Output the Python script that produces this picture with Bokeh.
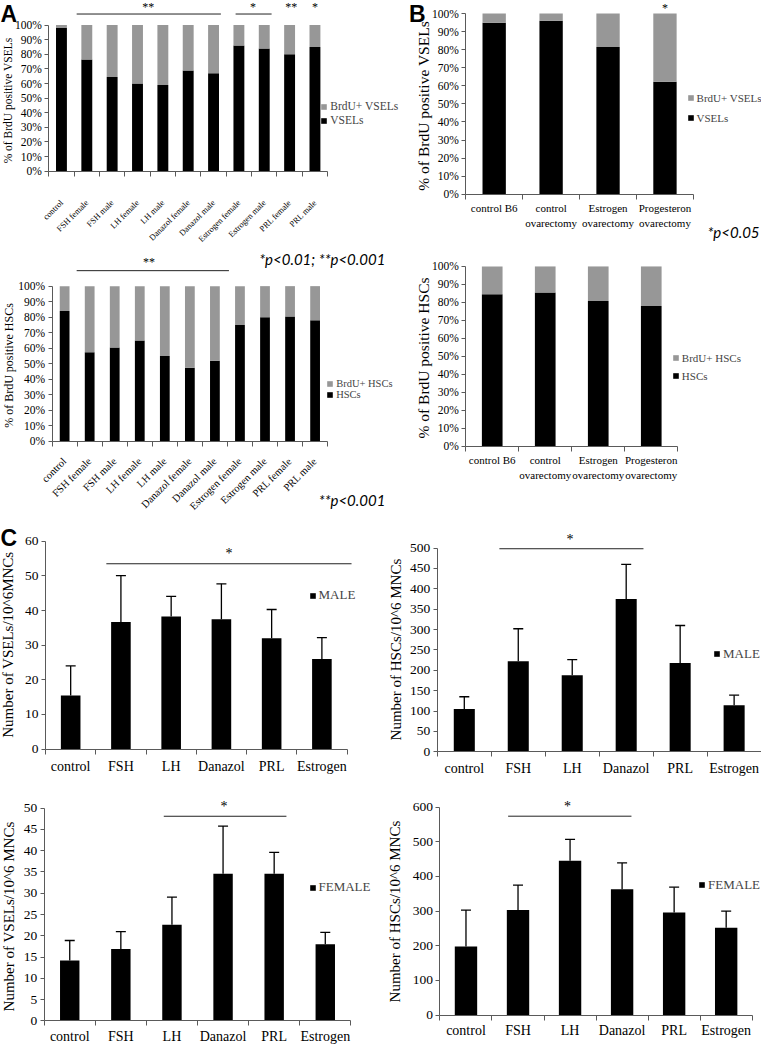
import math
from bokeh.plotting import figure
from bokeh.models import (Range1d, FixedTicker, Legend, LegendItem, Label,
                          Whisker, TeeHead, ColumnDataSource, NumeralTickFormatter,
                          BasicTickFormatter)
from bokeh.layouts import column, row
from bokeh.embed import file_html
from bokeh.resources import INLINE

# ---------------- data ----------------
a_categories = ["control", "FSH female", "FSH male", "LH female", "LH male",
                "Danazol female", "Danazol male", "Estrogen female", "Estrogen male",
                "PRL female", "PRL male"]
a_vsel_pct = [98, 76.5, 64.5, 60, 59, 69, 67, 86, 84, 80, 85]
a_hsc_pct = [84, 57.5, 60.5, 65, 55, 47.5, 52, 75, 80, 80.5, 78]

b_categories = ["control B6", "control\novarectomy", "Estrogen\novarectomy",
                "Progesteron\novarectomy"]
b_vsel_pct = [95, 96, 81.5, 62.3]
b_hsc_pct = [84.5, 85.5, 80.8, 78]

c_categories = ["control", "FSH", "LH", "Danazol", "PRL", "Estrogen"]
c_male_vsel = [15.5, 36.7, 38.3, 37.5, 32.0, 26.0]
c_male_vsel_err = [8.5, 13.4, 5.8, 10.2, 8.3, 6.2]
c_male_hsc = [105, 222, 188, 375, 218, 114]
c_male_hsc_err = [30, 80, 38, 85, 92, 25]
c_female_vsel = [14.2, 16.9, 22.6, 34.6, 34.6, 18.0]
c_female_vsel_err = [4.7, 4.1, 6.5, 11.2, 5.0, 2.8]
c_female_hsc = [198, 303, 445, 363, 296, 252]
c_female_hsc_err = [105, 72, 62, 76, 73, 48]

# ---------------- layout / style ----------------
SX = 761 / 777
SY = 1048 / 1064
ROW_LEFT_W = [399, 399, 382, 382]
TOTAL_W = 761
ROW_TOPS = [0, 246, 518, 778]
ROW_H = [246, 272, 260, 270]
SERIF = "Liberation Serif"
AXIS_COLOR = "#5a5a5a"
BLACK = "#000000"
GRAY = "#979797"


def base_figure(col, rowi, frame_left, axis_end, n, y_top, y_zero, ymax):
    lw = ROW_LEFT_W[rowi]
    fig_left = 0 if col == 0 else lw
    W = lw if col == 0 else TOTAL_W - lw
    H = ROW_H[rowi]
    top = ROW_TOPS[rowi]
    ax = frame_left * SX - fig_left        # px from figure left to y axis
    az = y_zero * SY - top                 # px from figure top to x axis
    ppc = (axis_end - frame_left) * SX / n
    ppu = (y_zero - y_top) * SY / ymax
    p = figure(width=W, height=H, title=None,
               x_range=Range1d(-ax / ppc, (W - ax) / ppc),
               y_range=Range1d(-(H - az) / ppu, az / ppu),
               min_border=0, min_border_left=0, min_border_right=0,
               min_border_top=0, min_border_bottom=0,
               toolbar_location=None, output_backend="svg")
    p.xgrid.visible = False
    p.ygrid.visible = False
    p.outline_line_color = None
    p.background_fill_color = "white"
    p.border_fill_color = "white"
    p.xaxis.fixed_location = 0
    p.yaxis.fixed_location = 0
    g = dict(fig_left=fig_left, top=top, H=H, n=n, ymax=ymax)
    return p, g


def sx(g, rx):
    return rx * SX - g["fig_left"]


def sy(g, ry):
    return g["H"] - (ry * SY - g["top"])


def text_at(p, g, rx, ry, txt, size, font=SERIF, align="center", baseline="middle",
            angle=0.0, style="normal", color="black"):
    p.add_layout(Label(x=sx(g, rx), y=sy(g, ry), x_units="screen", y_units="screen",
                       text=txt, text_font=font, text_font_size=f"{size}px",
                       text_align=align, text_baseline=baseline, angle=angle,
                       text_font_style=style, text_color=color))


def style_x(p, g, labels, size, orientation=None, standoff=8):
    n = g["n"]
    xa = p.xaxis[0]
    xa.ticker = FixedTicker(ticks=[i + 0.5 for i in range(n)],
                            minor_ticks=list(range(n + 1)))
    xa.major_label_overrides = {i + 0.5: lab for i, lab in enumerate(labels)}
    xa.bounds = (0, n)
    xa.axis_line_color = AXIS_COLOR
    xa.major_tick_line_color = None
    xa.major_tick_out = 0
    xa.major_tick_in = 0
    xa.minor_tick_line_color = AXIS_COLOR
    xa.minor_tick_out = 5
    xa.minor_tick_in = 0
    xa.major_label_text_font = SERIF
    xa.major_label_text_font_size = f"{size}px"
    xa.major_label_text_color = "black"
    xa.major_label_standoff = standoff
    if orientation is not None:
        xa.major_label_orientation = orientation


def style_y(p, g, ticks, fmt, size):
    ya = p.yaxis[0]
    ya.ticker = FixedTicker(ticks=ticks, minor_ticks=[])
    ya.bounds = (0, g["ymax"])
    ya.formatter = fmt
    ya.axis_line_color = AXIS_COLOR
    ya.major_tick_line_color = AXIS_COLOR
    ya.major_tick_out = 4
    ya.major_tick_in = 0
    ya.minor_tick_line_color = None
    ya.major_label_text_font = SERIF
    ya.major_label_text_font_size = f"{size}px"
    ya.major_label_text_color = "black"
    ya.major_label_standoff = 3


def add_legend(p, g, items, left_ref, top_ref, pitch_ref, size, glyph=7):
    lh = pitch_ref * SY
    leg = Legend(items=items,
                 location=(sx(g, left_ref), sy(g, top_ref) - len(items) * lh))
    leg.label_height = int(round(lh))
    leg.glyph_height = glyph
    leg.glyph_width = glyph
    leg.spacing = 0
    leg.padding = 0
    leg.margin = 0
    leg.border_line_color = None
    leg.background_fill_alpha = 0
    leg.label_text_font = SERIF
    leg.label_text_font_size = f"{size}px"
    leg.label_standoff = 3
    p.add_layout(leg)


def add_sig(p, lines, stars, size):
    if lines:
        p.segment(x0=[l[0] for l in lines], y0=[l[2] for l in lines],
                  x1=[l[1] for l in lines], y1=[l[2] for l in lines],
                  line_color="#222222", line_width=1)
    for (x, y, t) in stars:
        p.add_layout(Label(x=x, y=y, text=t, text_font=SERIF,
                           text_font_size=f"{size}px", text_align="center",
                           text_baseline="middle", text_color="black"))


def pct_panel(col, rowi, geo, cats, vals, names, bw, xsize, ysize, orientation,
              standoff, leg, ylab, ylab_pos, ylab_size):
    p, g = base_figure(col, rowi, *geo)
    xs = [i + 0.5 for i in range(len(cats))]
    src = ColumnDataSource(dict(x=xs, main=[v / 100 for v in vals],
                                brdu=[(100 - v) / 100 for v in vals]))
    rs = p.vbar_stack(["main", "brdu"], x="x", width=bw, source=src,
                      fill_color=[BLACK, GRAY], line_color=None)
    style_x(p, g, cats, xsize, orientation, standoff)
    style_y(p, g, [i / 10 for i in range(11)], NumeralTickFormatter(format="0%"), ysize)
    items = [LegendItem(label=names[0], renderers=[rs[1]]),
             LegendItem(label=names[1], renderers=[rs[0]])]
    add_legend(p, g, items, *leg)
    text_at(p, g, ylab_pos[0], ylab_pos[1], ylab, ylab_size, angle=math.pi / 2)
    return p, g


def count_panel(col, rowi, geo, means, errs, yticks, bw, legend_label, leg, ylab,
                ylab_pos, standoff):
    p, g = base_figure(col, rowi, *geo)
    xs = [i + 0.5 for i in range(len(means))]
    src = ColumnDataSource(dict(x=xs, m=means,
                                up=[m + e for m, e in zip(means, errs)]))
    r = p.vbar(x="x", top="m", bottom=0, width=bw, source=src,
               fill_color=BLACK, line_color=None)
    p.add_layout(Whisker(base="x", lower="m", upper="up", source=src,
                         dimension="height", line_color=BLACK, line_width=1.3,
                         upper_head=TeeHead(size=10, line_color=BLACK, line_width=1.3),
                         lower_head=None))
    style_x(p, g, c_categories, 14, None, standoff)
    style_y(p, g, yticks, BasicTickFormatter(), 13.5)
    add_legend(p, g, [LegendItem(label=legend_label, renderers=[r])], *leg)
    text_at(p, g, ylab_pos[0], ylab_pos[1], ylab, 15, angle=math.pi / 2)
    return p, g


# ---------------- panel A ----------------
pA1, gA1 = pct_panel(0, 0, (49.3, 334, 11, 25, 173.3, 1), a_categories, a_vsel_pct,
                     ["BrdU+ VSELs", "VSELs"], 0.43, 8.5, 11.5, math.pi / 4, 25,
                     (327, 101, 14, 11.5, 7), "% of BrdU positive  VSELs", (8, 100), 11.5)
add_sig(pA1, [(1.10, 6.79, 1.076), (7.37, 8.79, 1.076)],
        [(3.92, 1.125, "**"), (8.06, 1.125, "*"), (9.57, 1.125, "**"), (10.5, 1.125, "*")], 12)
text_at(pA1, gA1, 0, 1, "A", 23, font="Liberation Sans", align="left", baseline="top",
        style="bold")

pA2, gA2 = pct_panel(0, 1, (52.7, 334, 11, 290, 447.7, 1), a_categories, a_hsc_pct,
                     ["BrdU+ HSCs", "HSCs"], 0.39, 10.5, 11.5, math.pi / 4, 13,
                     (333, 385.5, 10.3, 10.5, 7), "% of BrdU positive  HSCs", (9, 369), 12)
add_sig(pA2, [(0.98, 7.06, 1.0996)], [(3.87, 1.155, "**")], 12)
text_at(pA2, gA2, 393, 262, "*p<0.01; **p<0.001", 15, font="Lato", align="right",
        style="italic")
text_at(pA2, gA2, 393, 507, "**p<0.001", 15, font="Lato", align="right", style="italic")

# ---------------- panel B ----------------
pB1, gB1 = pct_panel(1, 0, (475, 707.5, 4, 13.3, 196.7, 1), b_categories, b_vsel_pct,
                     ["BrdU+ VSELs", "VSELs"], 0.41, 11, 11.5, None, 3,
                     (701, 89, 20.3, 11, 7), "% of BrdU positive  VSELs", (432, 105), 15.5)
add_sig(pB1, [], [(3.5, 1.03, "*")], 12)
text_at(pB1, gB1, 417, 1, "B", 23, font="Liberation Sans", align="left", baseline="top",
        style="bold")
text_at(pB1, gB1, 775, 235, "*p<0.05", 15, font="Lato", align="right", style="italic")

pB2, gB2 = pct_panel(1, 1, (475, 691.5, 4, 270, 452.7, 1), b_categories, b_hsc_pct,
                     ["BrdU+ HSCs", "HSCs"], 0.39, 11, 11.5, None, 3,
                     (686, 354, 18.4, 11, 7), "% of BrdU positive  HSCs", (432, 361), 15.5)

# ---------------- panel C ----------------
pC1, gC1 = count_panel(0, 2, (46, 353.8, 6, 549, 760, 60), c_male_vsel, c_male_vsel_err,
                       list(range(0, 61, 10)), 0.39, "MALE", (315, 598.7, 14, 13, 7),
                       "Number of VSELs/10^6MNCs", (8, 654), 5)
add_sig(pC1, [(1.21, 6.09, 53.5)], [(3.65, 56.4, "*")], 14)
text_at(pC1, gC1, 0, 532, "C", 23, font="Liberation Sans", align="left", baseline="top",
        style="bold")

pC2, gC2 = count_panel(1, 2, (446, 776.6, 6, 556, 762.7, 500), c_male_hsc, c_male_hsc_err,
                       list(range(0, 501, 50)), 0.39, "MALE", (728, 658, 14, 13, 7),
                       "Number of HSCs/10^6 MNCs", (404, 659), 4)
add_sig(pC2, [(1.15, 3.82, 498.5)], [(2.46, 522, "*")], 14)

pC3, gC3 = count_panel(0, 3, (44.6, 357.7, 6, 820, 1036, 50), c_female_vsel,
                       c_female_vsel_err, list(range(0, 51, 5)), 0.38, "FEMALE",
                       (315, 894.7, 14, 13, 7), "Number of VSELs/10^6  MNCs", (9, 928), 3)
add_sig(pC3, [(2.34, 4.74, 48.1)], [(3.52, 50.4, "*")], 14)

pC4, gC4 = count_panel(1, 3, (448.7, 767.5, 6, 819, 1030, 600), c_female_hsc,
                       c_female_hsc_err, list(range(0, 601, 100)), 0.43, "FEMALE",
                       (712.7, 892.3, 14, 13, 7), "Number of HSCs/10^6 MNCs", (403, 925), 3)
add_sig(pC4, [(1.31, 3.68, 574)], [(2.45, 602, "*")], 14)

layout = column(row(pA1, pB1), row(pA2, pB2), row(pC1, pC2), row(pC3, pC4))

with open("out.html", "w") as f:
    f.write(file_html(layout, INLINE))
